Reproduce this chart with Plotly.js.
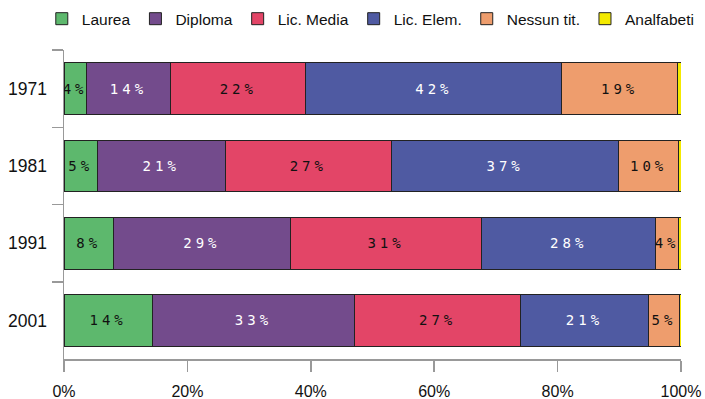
<!DOCTYPE html>
<html>
<head>
<meta charset="utf-8">
<script src="https://cdn.plot.ly/plotly-3.0.1.min.js"></script>
<style>
  html, body { margin: 0; padding: 0; background: #fff; }
  #chart { width: 705px; height: 399px; }
  text.bartext { letter-spacing: 4px; }
</style>
</head>
<body>
<div id="chart"></div>
<script>
// Data (percent of population by education level)
const years = ['1971', '1981', '1991', '2001'];
const seriesNames = ['Laurea', 'Diploma', 'Lic. Media', 'Lic. Elem.', 'Nessun tit.', 'Analfabeti'];
const laurea     = [3.6, 5.4, 8.0, 14.3];
const diploma    = [13.7, 20.7, 28.7, 32.8];
const licMedia   = [21.9, 27.0, 31.0, 26.9];
const licElem    = [41.5, 36.8, 28.2, 20.7];
const nessunTit  = [18.7, 9.7, 3.7, 5.1];
const analfabeti = [0.6, 0.4, 0.4, 0.2];
const xTicks = [0, 20, 40, 60, 80, 100];

const colors = ['#5db86d', '#734b8c', '#e34567', '#4f5aa2', '#ee9d6d', '#f4ea00'];
const textColors = ['#111', '#fff', '#111', '#fff', '#111', '#111'];
const allSeries = [laurea, diploma, licMedia, licElem, nessunTit, analfabeti];

const traces = allSeries.map((vals, i) => {
  const t = {
    type: 'bar',
    orientation: 'h',
    name: seriesNames[i],
    y: years,
    x: vals,
    marker: { color: colors[i], line: { color: '#222', width: 1 } },
    hoverinfo: 'skip'
  };
  if (i < 5) {
    t.text = vals.map(v => Math.round(v) + '%');
    t.textposition = 'inside';
    t.insidetextanchor = 'middle';
    t.constraintext = 'none';
    t.textangle = 0;
    t.textfont = { family: 'DejaVu Sans Mono', size: 14, color: textColors[i] };
  } else {
    t.textposition = 'none';
  }
  return t;
});

const layout = {
  width: 705,
  height: 399,
  margin: { l: 64, r: 24, t: 50, b: 40, autoexpand: false },
  paper_bgcolor: '#fff',
  plot_bgcolor: '#fff',
  barmode: 'stack',
  bargap: 0.33,
  showlegend: true,
  legend: {
    orientation: 'h',
    x: -0.036, xanchor: 'left',
    y: 1.10, yanchor: 'middle',
    font: { family: 'Liberation Sans', size: 15.5, color: '#111' },
    traceorder: 'normal',
    itemclick: false
  },
  xaxis: {
    range: [0, 100],
    tickvals: xTicks,
    ticktext: xTicks.map(v => v + '%'),
    showgrid: false,
    zeroline: false,
    showline: true,
    linecolor: '#999',
    linewidth: 1.5,
    ticks: 'outside',
    ticklen: 11,
    tickwidth: 1.5,
    tickcolor: '#999',
    ticklabelstandoff: 6,
    tickfont: { family: 'Liberation Sans', size: 16, color: '#111' },
    fixedrange: true
  },
  yaxis: {
    type: 'category',
    categoryorder: 'array',
    categoryarray: years,
    autorange: 'reversed',
    showgrid: false,
    zeroline: false,
    showline: true,
    linecolor: '#999',
    linewidth: 1.5,
    ticks: 'outside',
    tickson: 'boundaries',
    ticklen: 11,
    tickwidth: 1.5,
    tickcolor: '#999',
    ticklabelstandoff: 12,
    tickfont: { family: 'Liberation Sans', size: 17.5, color: '#111' },
    fixedrange: true
  }
};

Plotly.newPlot('chart', traces, layout, { displayModeBar: false, staticPlot: true });
</script>
</body>
</html>
